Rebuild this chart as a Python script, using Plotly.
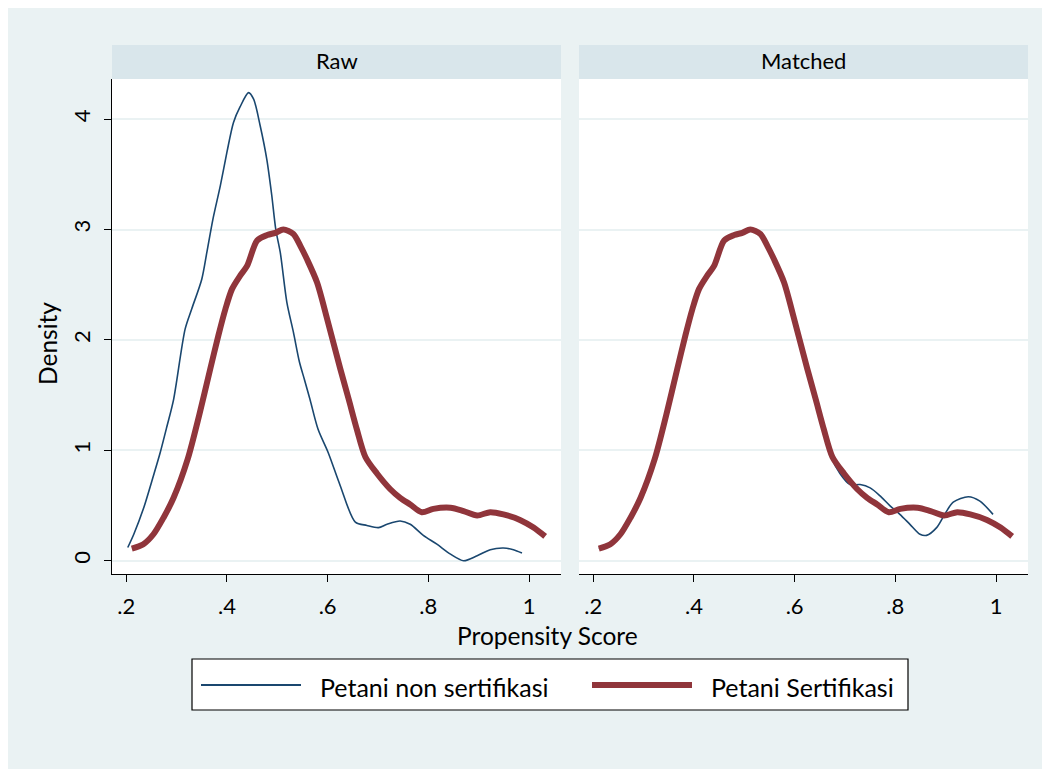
import plotly.graph_objects as go

# ---------------- data ----------------
panel_titles = ["Raw", "Matched"]
series_names = ["Petani non sertifikasi", "Petani Sertifikasi"]

x_ticks = [0.2, 0.4, 0.6, 0.8, 1.0]
x_tick_labels = [".2", ".4", ".6", ".8", "1"]
y_ticks = [0, 1, 2, 3, 4]
y_tick_labels = ["0", "1", "2", "3", "4"]

# Raw: non-certified farmers (control)
raw_non_x = [0.203, 0.215, 0.234, 0.254, 0.2675, 0.281, 0.294, 0.317, 0.330, 0.350,
             0.360, 0.372, 0.387, 0.400, 0.413, 0.426, 0.443, 0.453, 0.466, 0.479,
             0.489, 0.497, 0.506, 0.519, 0.532, 0.544, 0.554, 0.565, 0.581, 0.601,
             0.625, 0.655, 0.678, 0.701, 0.718, 0.744, 0.764, 0.790, 0.817, 0.844,
             0.870, 0.897, 0.923, 0.949, 0.969, 0.986]
raw_non_y = [0.12, 0.24, 0.47, 0.77, 0.98, 1.22, 1.46, 2.10, 2.28, 2.55,
             2.79, 3.09, 3.40, 3.70, 3.97, 4.11, 4.24, 4.18, 3.94, 3.64,
             3.31, 3.00, 2.79, 2.34, 2.07, 1.80, 1.64, 1.46, 1.19, 0.98,
             0.68, 0.35, 0.32, 0.30, 0.33, 0.36, 0.33, 0.23, 0.15, 0.06,
             0.00, 0.045, 0.10, 0.115, 0.10, 0.07]

# Certified farmers (treated) - same in both panels
cert_x = [0.211, 0.234, 0.254, 0.274, 0.294, 0.322, 0.345, 0.367, 0.383, 0.397,
          0.410, 0.426, 0.440, 0.460, 0.480, 0.496, 0.512, 0.532, 0.546, 0.559,
          0.579, 0.599, 0.625, 0.642, 0.658, 0.675, 0.698, 0.724, 0.744, 0.764,
          0.787, 0.810, 0.844, 0.870, 0.897, 0.923, 0.949, 0.982, 1.009, 1.032]
cert_y = [0.11, 0.15, 0.24, 0.39, 0.57, 0.92, 1.32, 1.74, 2.04, 2.28,
          2.46, 2.58, 2.67, 2.90, 2.95, 2.97, 3.00, 2.96, 2.85, 2.73,
          2.52, 2.19, 1.74, 1.46, 1.19, 0.94, 0.79, 0.65, 0.57, 0.51,
          0.44, 0.47, 0.48, 0.45, 0.41, 0.44, 0.42, 0.37, 0.30, 0.22]

# Matched: non-certified farmers (matched controls)
matched_non_x = [0.211, 0.234, 0.254, 0.274, 0.294, 0.322, 0.345, 0.367, 0.383, 0.397,
                 0.410, 0.426, 0.440, 0.460, 0.480, 0.496, 0.512, 0.532, 0.546, 0.559,
                 0.579, 0.599, 0.625, 0.642, 0.658, 0.672, 0.690, 0.710, 0.730, 0.750,
                 0.769, 0.789, 0.809, 0.829, 0.849, 0.862, 0.882, 0.898, 0.915, 0.945,
                 0.968, 0.994]
matched_non_y = [0.11, 0.15, 0.24, 0.39, 0.57, 0.92, 1.32, 1.74, 2.04, 2.28,
                 2.46, 2.58, 2.67, 2.90, 2.95, 2.97, 3.00, 2.96, 2.85, 2.73,
                 2.52, 2.19, 1.74, 1.46, 1.19, 0.95, 0.79, 0.69, 0.69, 0.66,
                 0.59, 0.50, 0.42, 0.33, 0.24, 0.23, 0.30, 0.42, 0.53, 0.58,
                 0.54, 0.42]

# ---------------- styling ----------------
OX, OY = 8, 9            # page offset of the figure inside the window
W, H = 1042, 761
BLUE = "#1a476f"
RED = "#90353b"
OUTER_BG = "#eaf2f3"
STRIP_BG = "#d9e6eb"
GRID = "#eaf2f3"
FONT = "Lato, Carlito, 'Open Sans', sans-serif"


def px(x):
    return (x - OX) / W


def py(y):
    return 1 - (y - OY) / H


fig = go.Figure()

fig.add_trace(go.Scatter(x=raw_non_x, y=raw_non_y, mode="lines", name=series_names[0],
                         line=dict(color=BLUE, width=1.6, shape="spline", smoothing=0.8),
                         xaxis="x", yaxis="y", showlegend=False))
fig.add_trace(go.Scatter(x=cert_x, y=cert_y, mode="lines", name=series_names[1],
                         line=dict(color=RED, width=6, shape="spline", smoothing=0.8),
                         xaxis="x", yaxis="y", showlegend=False))
fig.add_trace(go.Scatter(x=matched_non_x, y=matched_non_y, mode="lines", name=series_names[0],
                         line=dict(color=BLUE, width=1.6, shape="spline", smoothing=0.8),
                         xaxis="x2", yaxis="y2", showlegend=False))
fig.add_trace(go.Scatter(x=cert_x, y=cert_y, mode="lines", name=series_names[1],
                         line=dict(color=RED, width=6, shape="spline", smoothing=0.8),
                         xaxis="x2", yaxis="y2", showlegend=False))

xr = [0.1717, 1.0635]
yr = [-0.12, 4.363]
ydom = [py(575), py(80)]

common_x = dict(range=xr, tickmode="array", tickvals=x_ticks, ticktext=x_tick_labels,
                showgrid=False, zeroline=False, showline=True, linecolor="#000000",
                linewidth=1.2, ticks="outside", ticklen=7, tickwidth=1.2, tickcolor="#000000",
                tickfont=dict(family=FONT, size=22, color="#000000"), ticklabelstandoff=5,
                fixedrange=True)
fig.update_layout(
    xaxis=dict(domain=[px(112), px(561)], anchor="y", **common_x),
    xaxis2=dict(domain=[px(579), px(1028)], anchor="y2", **common_x),
    yaxis=dict(domain=ydom, range=yr, anchor="x", tickmode="array", tickvals=y_ticks,
               ticktext=y_tick_labels, showgrid=True, gridcolor=GRID, gridwidth=2,
               zeroline=False, showline=True, linecolor="#000000", linewidth=1.2,
               ticks="outside", ticklen=7, tickwidth=1.2, tickcolor="#000000",
               tickangle=-90, tickfont=dict(family=FONT, size=22, color="#000000"),
               ticklabelstandoff=5, fixedrange=True),
    yaxis2=dict(domain=ydom, range=yr, anchor="x2", tickmode="array", tickvals=y_ticks,
                showticklabels=False, showgrid=True, gridcolor=GRID, gridwidth=2,
                zeroline=False, showline=False, ticks="", fixedrange=True),
)

shapes = []
# panel header strips
for x0, x1 in [(112, 561), (579, 1028)]:
    shapes.append(dict(type="rect", xref="paper", yref="paper", x0=px(x0), x1=px(x1),
                       y0=py(80), y1=py(46), fillcolor=STRIP_BG, line=dict(width=0)))
# legend box
shapes.append(dict(type="rect", xref="paper", yref="paper", x0=px(192), x1=px(908),
                   y0=py(711), y1=py(660), fillcolor="white",
                   line=dict(color="#000000", width=1.2)))
shapes.append(dict(type="line", xref="paper", yref="paper", x0=px(201), x1=px(301),
                   y0=py(686), y1=py(686), line=dict(color=BLUE, width=2.2)))
shapes.append(dict(type="line", xref="paper", yref="paper", x0=px(592), x1=px(692),
                   y0=py(686), y1=py(686), line=dict(color=RED, width=6)))

annotations = []
for title, cx in zip(panel_titles, [336.5, 803.5]):
    annotations.append(dict(text=title, xref="paper", yref="paper", x=px(cx), y=py(62),
                            xanchor="center", yanchor="middle", showarrow=False,
                            font=dict(family=FONT, size=22, color="#000000")))
annotations.append(dict(text="Propensity Score", xref="paper", yref="paper", x=px(547),
                        y=py(636), xanchor="center", yanchor="middle", showarrow=False,
                        font=dict(family=FONT, size=24.5, color="#000000")))
annotations.append(dict(text="Density", xref="paper", yref="paper", x=px(47), y=py(345),
                        xanchor="center", yanchor="middle", showarrow=False, textangle=-90,
                        font=dict(family=FONT, size=24.5, color="#000000")))
annotations.append(dict(text=series_names[0], xref="paper", yref="paper", x=px(318),
                        y=py(688), xanchor="left", yanchor="middle", showarrow=False,
                        font=dict(family=FONT, size=25, color="#000000")))
annotations.append(dict(text=series_names[1], xref="paper", yref="paper", x=px(709),
                        y=py(688), xanchor="left", yanchor="middle", showarrow=False,
                        font=dict(family=FONT, size=25, color="#000000")))

fig.update_layout(
    width=W, height=H,
    margin=dict(l=0, r=0, t=0, b=0),
    paper_bgcolor=OUTER_BG,
    plot_bgcolor="white",
    showlegend=False,
    shapes=shapes,
    annotations=annotations,
    font=dict(family=FONT, color="#000000"),
)

fig.write_html("out.html")
